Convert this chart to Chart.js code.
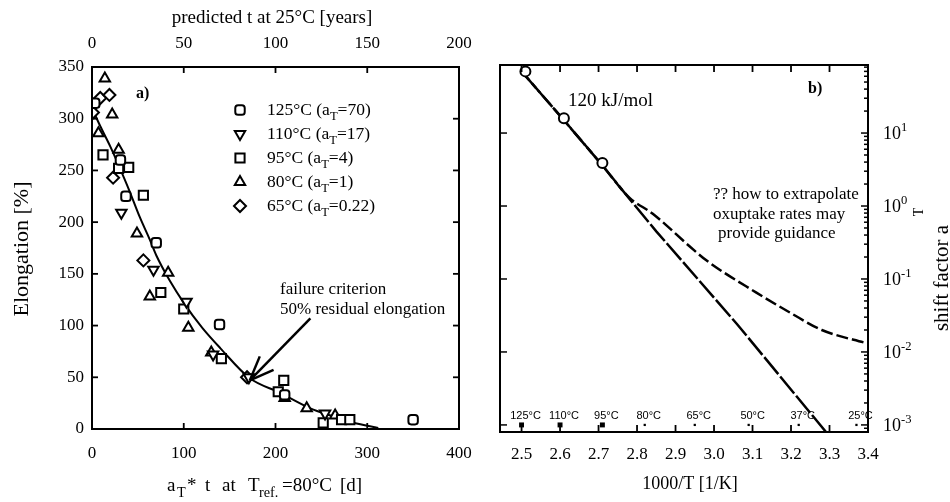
<!DOCTYPE html>
<html>
<head>
<meta charset="utf-8">
<script src="https://cdn.jsdelivr.net/npm/chart.js@4.4.1/dist/chart.umd.min.js"></script>
<style>
  body { margin: 0; background: #fff; }
  #wrap { position: relative; width: 950px; height: 502px; }
  canvas { position: absolute; top: 0; }
  #c1 { left: 0; }
  #c2 { left: 475px; }
</style>
</head>
<body>
<div id="wrap">
  <canvas id="c1" width="475" height="502"></canvas>
  <canvas id="c2" width="475" height="502"></canvas>
</div>
<script>
// ---- a) elongation vs shifted ageing time ----
const xTicks = [0, 100, 200, 300, 400];
const yearTicks = [0, 50, 100, 150, 200];
const elongTicks = [0, 50, 100, 150, 200, 250, 300, 350];

// master curve
const curveX = [0, 10, 20, 30, 40, 52, 63, 70, 85, 100, 120, 140, 172, 205, 238, 260, 285, 312];
const curveY = [310, 291, 273, 253, 232, 205, 183, 168, 143, 122, 98, 78, 49, 35, 20, 13, 6, 1];

// measured points per ageing temperature
const t125X = [3, 31, 37, 70, 139, 210, 350];
const t125Y = [315, 260, 225, 180, 101, 33, 9];
const t110X = [32, 67, 103, 132, 171, 254];
const t110Y = [209, 154, 123, 72, 50, 15];
const t95X = [12, 29, 40, 56, 75, 100, 141, 209, 203, 252, 272, 281];
const t95Y = [265, 252, 253, 226, 132, 116, 68, 47, 36, 6, 9, 9];
const t80X = [14, 22, 7, 29, 49, 83, 63, 105, 130, 210, 234, 265];
const t80Y = [339, 304, 286, 270, 189, 151, 128, 98, 74, 30, 20, 13];
const t65X = [9, 19, 1, 23, 56, 169];
const t65Y = [320, 323, 306, 243, 163, 50];

const seriesNames = [
  ['125°C (a', 'T', '=70)'],
  ['110°C (a', 'T', '=17)'],
  ['95°C (a', 'T', '=4)'],
  ['80°C (a', 'T', '=1)'],
  ['65°C (a', 'T', '=0.22)']
];

// ---- b) shift factor vs 1000/T ----
const invTTicks = [2.5, 2.6, 2.7, 2.8, 2.9, 3.0, 3.1, 3.2, 3.3, 3.4];
const decades = [-3, -2, -1, 0, 1];
const arrX = [2.50, 2.61, 2.71, 2.78, 2.85, 3.06, 3.30];
const arrY = [70, 15, 3.6, 1.26, 0.45, 0.024, 0.0007];
const oxX = [2.50, 2.61, 2.71, 2.78, 2.84, 2.94, 2.98, 3.11, 3.20, 3.28, 3.40];
const oxY = [70, 15, 3.6, 1.3, 0.79, 0.27, 0.18, 0.065, 0.034, 0.020, 0.013];
const shiftX = [2.51, 2.61, 2.71];
const shiftY = [70, 16, 3.9];
const tempLabels = ['125°C', '110°C', '95°C', '80°C', '65°C', '50°C', '37°C', '25°C'];
const tempX = [2.50, 2.60, 2.71, 2.82, 2.95, 3.09, 3.22, 3.37];

const serif = "'Liberation Serif', 'DejaVu Serif', serif";
const sans = "'Liberation Sans', 'DejaVu Sans', sans-serif";

function pts(xs, ys) { return xs.map((x, i) => ({ x: x, y: ys[i] })); }

// text with sub/superscript parts: [text, ''|'sub'|'sup']
function drawRich(ctx, parts, x, y, o) {
  const size = o.size || 17;
  const fam = o.family || serif;
  const small = size * (o.small || 0.7);
  const font = s => (o.bold ? 'bold ' : '') + s + 'px ' + fam;
  const widths = parts.map(p => { ctx.font = font(p[1] ? small : size); return ctx.measureText(p[0]).width; });
  const total = widths.reduce((a, b) => a + b, 0);
  ctx.save();
  ctx.translate(x, y);
  if (o.rotate) ctx.rotate(o.rotate);
  ctx.fillStyle = '#000';
  ctx.textAlign = 'left';
  ctx.textBaseline = 'alphabetic';
  let cx = o.align === 'center' ? -total / 2 : (o.align === 'right' ? -total : 0);
  parts.forEach((p, i) => {
    ctx.font = font(p[1] ? small : size);
    const dy = p[1] === 'sub' ? size * 0.3 : (p[1] === 'sup' ? -size * 0.42 : 0);
    ctx.fillText(p[0], cx, dy);
    cx += widths[i];
  });
  ctx.restore();
}

function tick(ctx, x1, y1, x2, y2) {
  ctx.beginPath(); ctx.moveTo(x1, y1); ctx.lineTo(x2, y2); ctx.stroke();
}

// keep long end labels from squeezing the plot box
function noEdgePad(s) { s.paddingLeft = 0; s.paddingRight = 0; }

const styles = [
  { pointStyle: 'rectRounded', rotation: 0, radius: 5.5 },
  { pointStyle: 'triangle', rotation: 180, radius: 6 },
  { pointStyle: 'rect', rotation: 0, radius: 6.5 },
  { pointStyle: 'triangle', rotation: 0, radius: 6 },
  { pointStyle: 'rectRot', rotation: 0, radius: 6 }
];

function markerSet(xs, ys, st) {
  return {
    data: pts(xs, ys), showLine: false,
    pointStyle: st.pointStyle, pointRotation: st.rotation, pointRadius: st.radius,
    borderColor: '#000', backgroundColor: '#fff', pointBorderWidth: 2, order: 1
  };
}

const frameA = {
  id: 'frameA',
  afterDraw(chart) {
    const ctx = chart.ctx, a = chart.chartArea;
    const sx = chart.scales.x, sy = chart.scales.y, st = chart.scales.xTop;
    ctx.save();
    ctx.strokeStyle = '#000';
    ctx.lineWidth = 2;
    ctx.strokeRect(a.left, a.top, a.right - a.left, a.bottom - a.top);
    ctx.lineWidth = 1.8;
    xTicks.slice(1, -1).forEach(v => { const p = sx.getPixelForValue(v); tick(ctx, p, a.bottom, p, a.bottom - 6); });
    yearTicks.slice(1, -1).forEach(v => { const p = st.getPixelForValue(v); tick(ctx, p, a.top, p, a.top + 6); });
    elongTicks.slice(1, -1).forEach(v => {
      const p = sy.getPixelForValue(v);
      tick(ctx, a.left, p, a.left + 6, p);
      tick(ctx, a.right, p, a.right - 6, p);
    });

    // arrow to failure criterion
    const tx = sx.getPixelForValue(172), ty = sy.getPixelForValue(47);
    const fx = sx.getPixelForValue(238), fy = sy.getPixelForValue(107);
    const ang = Math.atan2(fy - ty, fx - tx);
    ctx.lineWidth = 2.5;
    tick(ctx, fx, fy, tx, ty);
    [-0.38, 0.38].forEach(d => tick(ctx, tx, ty, tx + 26 * Math.cos(ang + d), ty + 26 * Math.sin(ang + d)));

    // legend
    styles.forEach((s, i) => {
      const y = a.top + 43 + i * 24;
      if (Chart.helpers && Chart.helpers.drawPoint) {
        ctx.lineWidth = 2; ctx.strokeStyle = '#000'; ctx.fillStyle = '#fff';
        Chart.helpers.drawPoint(ctx, { pointStyle: s.pointStyle, rotation: s.rotation, radius: s.radius, borderWidth: 2 }, 240, y);
      }
      const n = seriesNames[i];
      drawRich(ctx, [[n[0], ''], [n[1], 'sub'], [n[2], '']], 267, y + 5, { size: 17.5, small: 0.72 });
    });
    ctx.restore();

    drawRich(ctx, [['a)', '']], 136, 98, { size: 16, bold: true });
    drawRich(ctx, [['failure criterion', '']], 280, 294, { size: 17 });
    drawRich(ctx, [['50% residual elongation', '']], 280, 314, { size: 17 });

    // axis titles
    drawRich(ctx, [['predicted t at 25°C [years]', '']], 272, 23, { size: 19, align: 'center' });
    const bottomTitle = [[167, 'a', ''], [177, 'T', 'sub'], [187, '*', ''], [205, 't', ''], [222, 'at', ''],
      [248, 'T', ''], [259, 'ref.', 'sub'], [282, '=80°C', ''], [340, '[d]', '']];
    bottomTitle.forEach(b => drawRich(ctx, [[b[1], b[2]]], b[0], 491, { size: 19, small: 0.75 }));
    drawRich(ctx, [['Elongation [%]', '']], 28, 249, { size: 22, align: 'center', rotate: -Math.PI / 2 });
  }
};

new Chart(document.getElementById('c1'), {
  type: 'scatter',
  data: {
    datasets: [
      { type: 'line', data: pts(curveX, curveY), borderColor: '#000', borderWidth: 2, pointRadius: 0, cubicInterpolationMode: 'monotone', order: 10 },
      markerSet(t125X, t125Y, styles[0]),
      markerSet(t110X, t110Y, styles[1]),
      markerSet(t95X, t95Y, styles[2]),
      markerSet(t80X, t80Y, styles[3]),
      markerSet(t65X, t65Y, styles[4])
    ]
  },
  options: {
    responsive: false,
    animation: false,
    layout: { padding: { right: 16 } },
    plugins: { legend: { display: false }, tooltip: { enabled: false } },
    scales: {
      x: {
        type: 'linear', position: 'bottom', min: 0, max: 400,
        afterBuildTicks: s => { s.ticks = xTicks.map(v => ({ value: v })); },
        afterFit: s => { s.height = 73; noEdgePad(s); },
        grid: { display: false, drawTicks: false }, border: { display: false },
        ticks: { font: { family: serif, size: 17 }, color: '#000', padding: 14, maxRotation: 0 }
      },
      xTop: {
        type: 'linear', position: 'top', min: 0, max: 200,
        afterBuildTicks: s => { s.ticks = yearTicks.map(v => ({ value: v })); },
        afterFit: s => { s.height = 67; noEdgePad(s); },
        grid: { display: false, drawTicks: false }, border: { display: false },
        ticks: { font: { family: serif, size: 17 }, color: '#000', padding: 13, maxRotation: 0 }
      },
      y: {
        type: 'linear', position: 'left', min: 0, max: 350,
        afterBuildTicks: s => { s.ticks = elongTicks.map(v => ({ value: v })); },
        afterFit: s => { s.width = 92; },
        grid: { display: false, drawTicks: false }, border: { display: false },
        ticks: { font: { family: serif, size: 17 }, color: '#000', padding: 8 }
      }
    }
  },
  plugins: [frameA]
});

const frameB = {
  id: 'frameB',
  afterDraw(chart) {
    const ctx = chart.ctx, a = chart.chartArea;
    const sx = chart.scales.x, sy = chart.scales.y;
    ctx.save();
    ctx.strokeStyle = '#000';
    ctx.lineWidth = 2;
    ctx.strokeRect(a.left, a.top, a.right - a.left, a.bottom - a.top);
    ctx.lineWidth = 1.8;
    invTTicks.forEach(v => {
      const p = sx.getPixelForValue(v);
      tick(ctx, p, a.bottom, p, a.bottom - 7);
      tick(ctx, p, a.top, p, a.top + 7);
    });
    ctx.lineWidth = 1.5;
    sy.ticks.forEach(t => {
      const p = sy.getPixelForValue(t.value);
      if (t.major) tick(ctx, a.left, p, a.left + 7, p);
      tick(ctx, a.right, p, a.right - (t.major ? 7 : 4), p);
    });
    ctx.restore();

    decades.forEach(e => {
      const p = sy.getPixelForValue(Math.pow(10, e));
      drawRich(ctx, [['10', ''], [String(e), 'sup']], a.right + 15, p + 6, { size: 18 });
    });

    ctx.save();
    ctx.fillStyle = '#000';
    ctx.font = '11px ' + sans;
    ctx.textAlign = 'center';
    tempLabels.forEach((l, i) => ctx.fillText(l, sx.getPixelForValue(tempX[i]) + 4, 419));
    ctx.restore();

    drawRich(ctx, [['120 kJ/mol', '']], 93, 106, { size: 19 });
    drawRich(ctx, [['b)', '']], 333, 93, { size: 16, bold: true });
    drawRich(ctx, [['?? how to extrapolate', '']], 238, 199, { size: 17 });
    drawRich(ctx, [['oxuptake rates may', '']], 238, 219, { size: 17 });
    drawRich(ctx, [['provide guidance', '']], 243, 238, { size: 17 });

    drawRich(ctx, [['1000/T [1/K]', '']], 215, 489, { size: 18, align: 'center' });
    drawRich(ctx, [['shift factor a', '']], 473, 278, { size: 21, align: 'center', rotate: -Math.PI / 2 });
    drawRich(ctx, [['T', '']], 448, 212, { size: 14, align: 'center', rotate: -Math.PI / 2 });
  }
};

new Chart(document.getElementById('c2'), {
  type: 'scatter',
  data: {
    datasets: [
      { type: 'line', data: pts(arrX, arrY), borderColor: '#000', borderWidth: 2.5, borderDash: [22, 3], pointRadius: 0, tension: 0, order: 5 },
      { type: 'line', data: pts(oxX, oxY), borderColor: '#000', borderWidth: 2.5, borderDash: [12, 4], pointRadius: 0, cubicInterpolationMode: 'monotone', order: 6 },
      { data: pts(shiftX, shiftY), showLine: false, pointStyle: 'circle', pointRadius: 5, pointBorderWidth: 2, borderColor: '#000', backgroundColor: '#fff', order: 1 },
      { data: tempX.map(x => ({ x: x, y: 0.001 })), showLine: false, pointStyle: 'rect',
        pointRadius: tempX.map((x, i) => i < 3 ? 3.5 : 1.6), pointBorderWidth: 0, backgroundColor: '#000', borderColor: '#000', order: 2 }
    ]
  },
  options: {
    responsive: false,
    animation: false,
    layout: { padding: { left: 25, top: 65 } },
    plugins: { legend: { display: false }, tooltip: { enabled: false } },
    scales: {
      x: {
        type: 'linear', position: 'bottom', min: 2.444, max: 3.4,
        afterBuildTicks: s => { s.ticks = invTTicks.map(v => ({ value: v })); },
        afterFit: s => { s.height = 70; noEdgePad(s); },
        grid: { display: false, drawTicks: false }, border: { display: false },
        ticks: { font: { family: serif, size: 17 }, color: '#000', padding: 12, maxRotation: 0, callback: v => v.toFixed(1) }
      },
      y: {
        type: 'logarithmic', position: 'right', min: 0.0008, max: 85.6,
        afterBuildTicks: s => {
          const t = [];
          for (let e = -4; e <= 1; e++) {
            for (let m = 1; m < 10; m++) {
              const v = m * Math.pow(10, e);
              if (v >= s.min && v <= s.max) t.push({ value: v, major: m === 1 });
            }
          }
          s.ticks = t;
        },
        afterFit: s => { s.width = 82; },
        grid: { display: false, drawTicks: false }, border: { display: false },
        ticks: { display: false }
      }
    }
  },
  plugins: [frameB]
});
</script>
</body>
</html>
